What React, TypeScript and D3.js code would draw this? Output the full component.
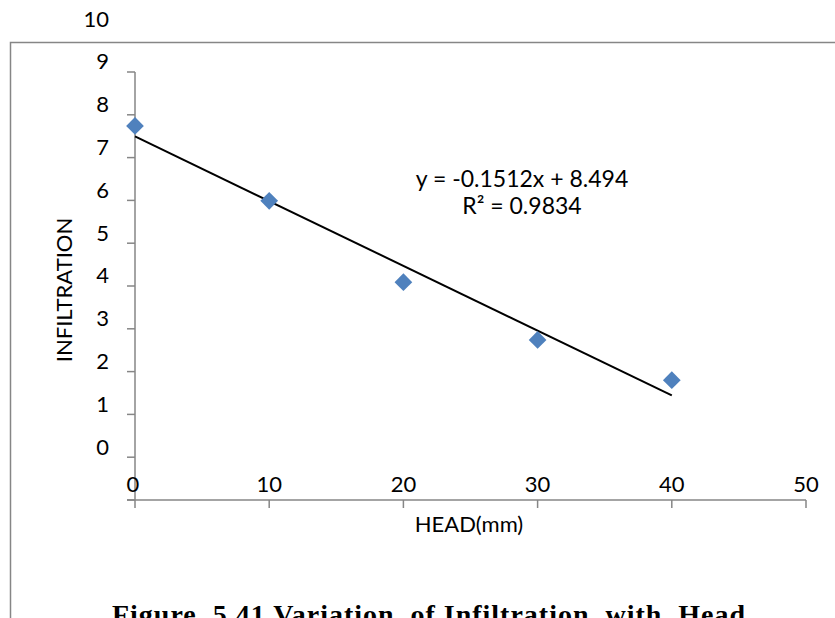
import React from "react";
import * as d3 from "d3";

const headValues = [0, 10, 20, 30, 40];
const infiltrationValues = [8.74, 6.99, 5.09, 3.74, 2.8];
const xTicks = [0, 10, 20, 30, 40, 50];
const yTicks = [0, 1, 2, 3, 4, 5, 6, 7, 8, 9, 10];
const slope = -0.1512;
const intercept = 8.494;
const equationText = "y = -0.1512x + 8.494";
const r2Text = "R² = 0.9834";
const xTitle = "HEAD(mm)";
const yTitle = "INFILTRATION";
const caption = "Figure  5.41 Variation  of Infiltration  with  Head";

const W = 835;
const H = 618;
const FONT = "Lato, 'Open Sans', sans-serif";
const AXIS = "#868686";

export default function App() {
  const x = d3.scaleLinear().domain([0, 50]).range([135, 806]);
  const y = d3.scaleLinear().domain([0, 10]).range([500, 72]);
  const diamond = d3.symbol().type(d3.symbolDiamond2 ?? d3.symbolDiamond).size(200)();
  const trend = d3.line<number>().x((d) => x(d)).y((d) => y(intercept + slope * d));

  return (
    <svg
      width={W}
      height={H}
      style={{ position: "absolute", left: 0, top: 0, background: "#fff" }}
      fontFamily={FONT}
    >
      <rect x={0} y={0} width={W} height={H} fill="#fff" />
      {/* chart border */}
      <path d={`M10.5,${H + 5} V42.5 H${W + 5}`} fill="none" stroke={AXIS} strokeWidth={1.5} />

      {/* y axis */}
      <line x1={x(0)} x2={x(0)} y1={y(10)} y2={y(0)} stroke={AXIS} strokeWidth={1.5} />
      {yTicks.map((t) => (
        <line key={"yt" + t} x1={x(0) - 8} x2={x(0)} y1={y(t)} y2={y(t)} stroke={AXIS} strokeWidth={1.5} />
      ))}
      {yTicks.map((t) => (
        <text
          key={"yl" + t}
          x={109}
          y={y(t) - 54}
          textAnchor="end"
          dominantBaseline="central"
          fontSize={22}
          fill="#000"
        >
          {t}
        </text>
      ))}

      {/* x axis */}
      <line x1={x(0) - 8} x2={x(50)} y1={y(0)} y2={y(0)} stroke={AXIS} strokeWidth={1.5} />
      {xTicks.map((t) => (
        <line key={"xt" + t} x1={x(t)} x2={x(t)} y1={y(0)} y2={y(0) + 8} stroke={AXIS} strokeWidth={1.5} />
      ))}
      {xTicks.map((t) => (
        <text
          key={"xl" + t}
          x={x(t) - (t === 0 ? 2 : 0)}
          y={483}
          textAnchor="middle"
          dominantBaseline="central"
          fontSize={22}
          fill="#000"
        >
          {t}
        </text>
      ))}

      {/* titles */}
      <text x={469} y={523} textAnchor="middle" dominantBaseline="central" fontSize={22} fill="#000">
        {xTitle}
      </text>
      <text
        transform={`translate(63,290) rotate(-90)`}
        textAnchor="middle"
        dominantBaseline="central"
        fontSize={22}
        fill="#000"
      >
        {yTitle}
      </text>

      {/* trendline */}
      <path d={trend([0, 40]) ?? ""} fill="none" stroke="#000" strokeWidth={2} />

      {/* points */}
      {headValues.map((h, i) => (
        <path
          key={"p" + i}
          d={diamond ?? ""}
          transform={`translate(${x(h)},${y(infiltrationValues[i])})`}
          fill="#4F81BD"
        />
      ))}

      {/* equation */}
      <text x={522} y={178} textAnchor="middle" dominantBaseline="central" fontSize={23} fill="#000">
        {equationText}
      </text>
      <text x={522} y={205} textAnchor="middle" dominantBaseline="central" fontSize={23} fill="#000">
        {r2Text}
      </text>

      {/* caption */}
      <text
        x={112}
        y={624}
        textAnchor="start"
        textLength={633}
        lengthAdjust="spacing"
        fontFamily="'Liberation Serif', 'DejaVu Serif', serif"
        fontWeight="bold"
        fontSize={28}
        fill="#000"
        style={{ whiteSpace: "pre" }}
      >
        {caption}
      </text>
    </svg>
  );
}
